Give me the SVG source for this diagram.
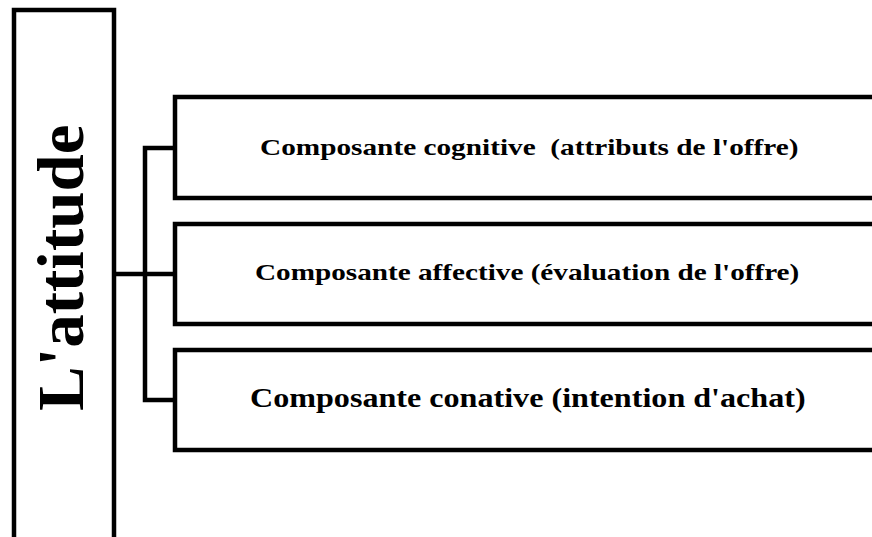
<svg xmlns="http://www.w3.org/2000/svg" width="872" height="537" viewBox="0 0 872 537">
  <style>
    .frame { fill: #ffffff; stroke: #000000; stroke-width: 4.5; }
    .link { fill: none; stroke: #000000; stroke-width: 4.5; stroke-linejoin: miter; }
    .label { font-family: "Liberation Serif", "Times New Roman", serif; font-weight: bold; fill: #000000; }
  </style>
  <rect width="872" height="537" fill="#ffffff"/>

  <!-- main vertical block -->
  <g id="attitude">
    <rect class="frame" x="14" y="10" width="100" height="560"/>
    <text class="label" font-size="65" transform="translate(83,411) rotate(-90) scale(1.03,1)">L'attitude</text>
  </g>

  <!-- bracket connectors -->
  <g id="connectors">
    <path class="link" d="M114,274 H175"/>
    <path class="link" d="M175,148 H145 V400 H175"/>
  </g>

  <!-- component boxes; labels are widened horizontally -->
  <g id="cognitive">
    <rect class="frame" x="175" y="97" width="720" height="101"/>
    <text class="label" font-size="24" transform="translate(260,155) scale(1.22,1)" xml:space="preserve">Composante cognitive  (attributs de l'offre)</text>
  </g>

  <g id="affective">
    <rect class="frame" x="175" y="224" width="720" height="100"/>
    <text class="label" font-size="24" transform="translate(255,280) scale(1.217,1)">Composante affective (évaluation de l'offre)</text>
  </g>

  <g id="conative">
    <rect class="frame" x="175" y="350" width="720" height="100"/>
    <text class="label" font-size="27" transform="translate(250,407) scale(1.19,1)">Composante conative (intention d'achat)</text>
  </g>
</svg>
